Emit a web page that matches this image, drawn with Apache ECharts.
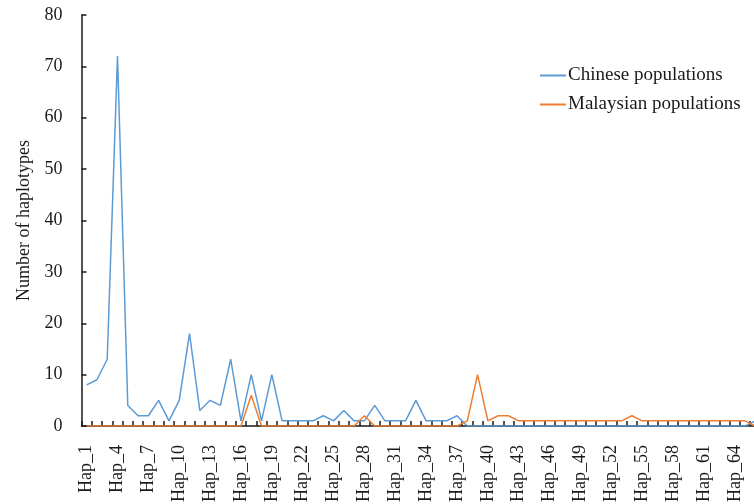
<!DOCTYPE html>
<html>
<head>
<meta charset="utf-8">
<script src="https://cdn.jsdelivr.net/npm/echarts@6/dist/echarts.min.js"></script>
<style>
  html, body { margin: 0; padding: 0; background: #fff; }
  #chart { width: 754px; height: 504px; }
</style>
</head>
<body>
<div id="chart"></div>
<script>
// Haplotype categories Hap_1 .. Hap_66
const categories = [];
for (let i = 1; i <= 66; i++) categories.push('Hap_' + i);

// Haplotype counts per population
const chinese = [
  8, 9, 13, 72, 4, 2, 2, 5, 1, 5,
  18, 3, 5, 4, 13, 1, 10, 1, 10, 1,
  1, 1, 1, 2, 1, 3, 1, 1, 4, 1,
  1, 1, 5, 1, 1, 1, 2, 0, 0, 0,
  0, 0, 0, 0, 0, 0, 0, 0, 0, 0,
  0, 0, 0, 0, 0, 0, 0, 0, 0, 0,
  0, 0, 0, 0, 0, 1
];
const malaysian = [
  0, 0, 0, 0, 0, 0, 0, 0, 0, 0,
  0, 0, 0, 0, 0, 0, 6, 0, 0, 0,
  0, 0, 0, 0, 0, 0, 0, 2, 0, 0,
  0, 0, 0, 0, 0, 0, 0, 1, 10, 1,
  2, 2, 1, 1, 1, 1, 1, 1, 1, 1,
  1, 1, 1, 2, 1, 1, 1, 1, 1, 1,
  1, 1, 1, 1, 1, 0
];

const seriesNames = ['Chinese populations', 'Malaysian populations'];
const yTicks = { min: 0, max: 80, step: 10 };

const FONT = '"Liberation Serif", "Times New Roman", serif';
const INK = '#1a1a1a';

const chart = echarts.init(document.getElementById('chart'), null, { renderer: 'canvas' });

chart.setOption({
  animation: false,
  backgroundColor: '#ffffff',
  textStyle: { fontFamily: FONT },
  // the plot runs slightly past the right edge, so the last category is cut off
  grid: { left: 81.5, top: 15, height: 411, width: 679, containLabel: false, outerBoundsMode: 'none' },
  legend: {
    orient: 'vertical',
    left: 540,
    top: 66,
    padding: 0,
    itemWidth: 26,
    itemHeight: 2,
    itemGap: 10,
    icon: 'rect',
    textStyle: { fontFamily: FONT, fontSize: 19, color: INK, padding: [0, 0, 0, -3] },
    data: seriesNames
  },
  xAxis: {
    type: 'category',
    data: categories,
    boundaryGap: true,
    axisLine: { show: true, lineStyle: { color: INK, width: 1.5 } },
    axisTick: { show: true, inside: true, length: 5, interval: 0, alignWithLabel: false,
                lineStyle: { color: INK, width: 1.5 } },
    axisLabel: { interval: 2, rotate: 90, margin: 19, fontFamily: FONT, fontSize: 18, color: INK },
    splitLine: { show: false }
  },
  yAxis: {
    type: 'value',
    min: yTicks.min,
    max: yTicks.max,
    interval: yTicks.step,
    name: 'Number of haplotypes',
    nameLocation: 'middle',
    nameGap: 46,
    nameTextStyle: { fontFamily: FONT, fontSize: 18, color: INK },
    axisLine: { show: true, lineStyle: { color: INK, width: 1.5 } },
    axisTick: { show: true, inside: true, length: 5, lineStyle: { color: INK, width: 1.5 } },
    axisLabel: { margin: 19, fontFamily: FONT, fontSize: 18, color: INK },
    splitLine: { show: false }
  },
  series: [
    {
      name: seriesNames[0],
      type: 'line',
      data: chinese,
      showSymbol: false,
      symbol: 'none',
      color: '#5B9BD5',
      lineStyle: { color: '#5B9BD5', width: 1.5 },
      z: 3
    },
    {
      name: seriesNames[1],
      type: 'line',
      data: malaysian,
      showSymbol: false,
      symbol: 'none',
      color: '#ED7D31',
      lineStyle: { color: '#ED7D31', width: 1.5 },
      z: 4
    }
  ]
});
</script>
</body>
</html>
